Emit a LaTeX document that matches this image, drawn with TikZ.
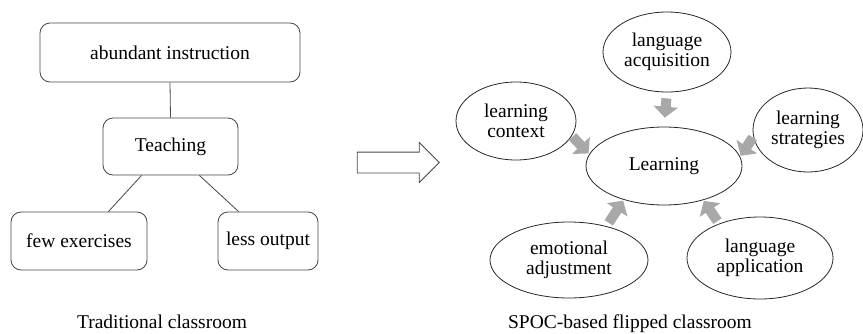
\documentclass[tikz,border=0pt]{standalone}
\usepackage{fontspec}
\setmainfont{Liberation Serif}
\usetikzlibrary{arrows.meta,positioning,shapes.geometric,shapes.arrows}
\definecolor{edgegray}{RGB}{70,70,70}
\definecolor{feedgray}{RGB}{168,168,168}
\tikzset{
  stage/.style={rectangle,rounded corners=10pt,draw=edgegray,line width=0.8pt,inner sep=0pt,font=\fontsize{19.5}{20}\selectfont},
  factor/.style={ellipse,draw=black!85,line width=0.8pt,inner sep=0pt,align=center,font=\fontsize{19.5}{20}\selectfont},
  link/.style={draw=edgegray,line width=0.8pt},
  feed/.style={draw=feedgray,line width=10pt,-{Triangle[length=11pt,width=24pt]}},
  caption/.style={anchor=base,font=\fontsize{19.5}{20}\selectfont}
}

\begin{document}
\begin{tikzpicture}[x=1pt,y=-1pt]
\useasboundingbox (0,0) rectangle (863,333);

\begin{scope}
  \node[stage,minimum width=260pt,minimum height=59pt] (instr) at (170,52.5) {abundant instruction};
  \node[stage,minimum width=135pt,minimum height=57pt] (teach) at (170.5,146.5) {Teaching};
  \node[stage,minimum width=136pt,minimum height=58pt] (few)   at (79,241) {few exercises};
  \node[stage,minimum width=100pt,minimum height=58pt] (less)  at (268,241) {less output};

  \draw[link] (instr.south) -- (teach.north);
  \draw[link] (teach.225) -- (few.45);
  \draw[link] (teach.-45) -- (less.135);

  \node[caption] (tradcap) at (162,328) {Traditional classroom};
\end{scope}

\node[single arrow,draw=edgegray,line width=0.8pt,inner sep=10pt,
      minimum height=82pt,single arrow head extend=9.5pt] (shift) at (393,162.5) {};

\begin{scope}
  \node[factor,minimum width=156pt,minimum height=78pt] (learn) at (664,166) {Learning};
  \node[factor,minimum width=128pt,minimum height=80pt] (acq)   at (667,52)  {language\\acquisition};
  \node[factor,minimum width=120pt,minimum height=78pt] (ctx)   at (516,121) {learning\\context};
  \node[factor,minimum width=110pt,minimum height=84pt] (strat) at (808,130) {learning\\strategies};
  \node[factor,minimum width=158pt,minimum height=76pt] (emot)  at (569,260) {emotional\\adjustment};
  \node[factor,minimum width=146pt,minimum height=82pt] (app)   at (760,258) {language\\application};

  \draw[feed,shorten <=6pt,shorten >=9pt] (acq.-90) -- (learn.90);
  \draw[feed,shorten <=1pt,shorten >=1pt] (ctx.-15) -- (learn.171);
  \draw[feed,shorten <=1pt,shorten >=1pt] (strat.187) -- (learn.7);
  \draw[feed,shorten <=4pt,shorten >=1pt] (emot.42) -- (learn.220);
  \draw[feed,shorten <=3pt,shorten >=1pt] (app.140) -- (learn.-41);

  \node[caption] (spoccap) at (630,328) {SPOC-based flipped classroom};
\end{scope}

\end{tikzpicture}
\end{document}
